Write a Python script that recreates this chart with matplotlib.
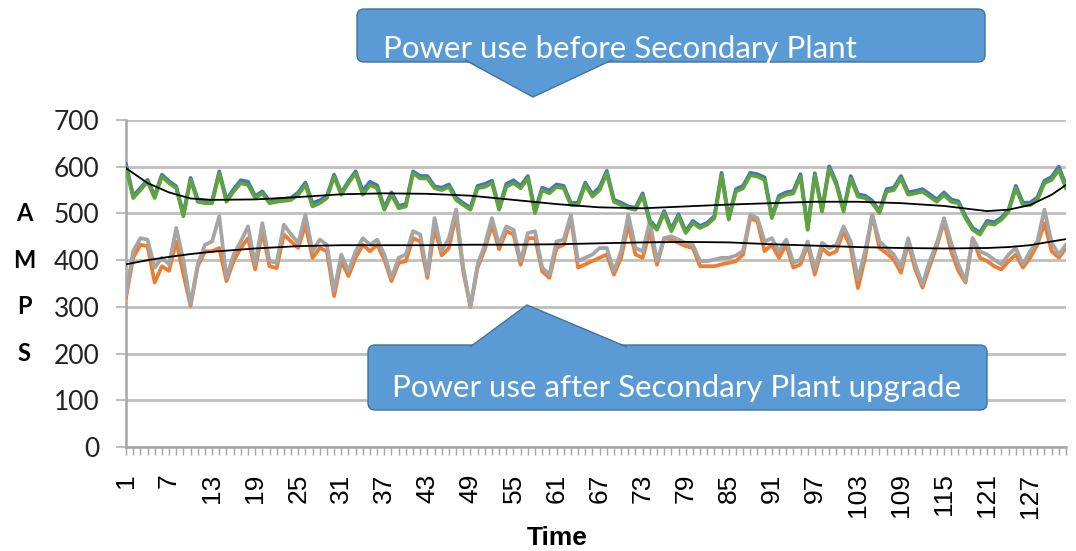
import numpy as np
import matplotlib
matplotlib.use("Agg")
import matplotlib.pyplot as plt
from matplotlib.patches import FancyBboxPatch, PathPatch
from matplotlib.path import Path
from matplotlib.transforms import Affine2D, blended_transform_factory

# valores (amperes por instante de tempo)
blue = [605, 538, 554, 572, 537, 583, 569, 558, 498, 576,
        530, 527, 526, 590, 529, 552, 571, 568, 537, 547,
        526, 529, 531, 533, 545, 566, 522, 528, 537, 583,
        544, 569, 590, 548, 568, 560, 512, 545, 516, 520,
        590, 580, 580, 558, 555, 562, 534, 522, 512, 559,
        563, 570, 512, 563, 571, 559, 580, 505, 555, 549,
        562, 559, 522, 523, 566, 541, 556, 591, 529, 523,
        515, 512, 543, 485, 468, 505, 467, 498, 462, 484,
        473, 480, 494, 587, 491, 552, 559, 587, 584, 577,
        494, 538, 545, 548, 584, 469, 586, 508, 601, 566,
        508, 580, 541, 538, 527, 505, 552, 555, 580, 545,
        548, 552, 541, 530, 545, 530, 526, 494, 469, 459,
        484, 481, 491, 508, 559, 523, 523, 534, 570, 578,
        600, 560]
green = [600, 533, 550, 568, 533, 579, 565, 554, 494, 572,
         525, 522, 522, 586, 525, 547, 565, 561, 533, 543,
         522, 525, 527, 529, 540, 561, 515, 522, 533, 579,
         540, 565, 586, 540, 561, 554, 508, 540, 511, 515,
         586, 575, 575, 554, 550, 557, 529, 518, 508, 554,
         557, 565, 508, 557, 565, 554, 575, 501, 550, 543,
         557, 554, 518, 518, 561, 536, 550, 586, 525, 518,
         511, 508, 538, 480, 465, 501, 462, 494, 458, 479,
         469, 476, 490, 582, 487, 547, 554, 582, 579, 572,
         490, 533, 540, 543, 579, 465, 582, 504, 596, 561,
         504, 575, 536, 533, 522, 501, 547, 550, 575, 540,
         543, 547, 536, 525, 540, 525, 522, 490, 465, 455,
         479, 476, 487, 504, 554, 518, 518, 529, 565, 572,
         593, 554]
orange = [320, 405, 433, 430, 352, 387, 377, 440, 370, 302,
          387, 419, 419, 426, 355, 398, 426, 447, 380, 462,
          387, 383, 455, 440, 426, 476, 405, 426, 419, 323,
          398, 366, 405, 433, 419, 433, 401, 355, 394, 398,
          447, 440, 362, 469, 410, 426, 497, 376, 300, 384,
          423, 476, 423, 462, 455, 390, 447, 447, 376, 362,
          426, 433, 490, 384, 391, 398, 405, 412, 369, 405,
          476, 412, 405, 462, 390, 447, 444, 437, 430, 426,
          387, 387, 387, 391, 394, 398, 412, 490, 483, 419,
          433, 405, 433, 384, 391, 433, 369, 426, 412, 419,
          462, 426, 340, 405, 497, 426, 415, 401, 373, 437,
          380, 341, 387, 430, 483, 419, 377, 352, 447, 405,
          398, 387, 380, 398, 412, 384, 405, 433, 479, 419,
          405, 426]
gray = [327, 419, 447, 444, 384, 405, 391, 469, 399, 306,
        391, 433, 440, 494, 362, 412, 440, 472, 391, 479,
        398, 394, 476, 455, 437, 497, 419, 444, 433, 334,
        412, 377, 419, 447, 433, 444, 412, 362, 405, 412,
        462, 455, 369, 490, 420, 447, 508, 384, 300, 391,
        433, 490, 433, 472, 465, 398, 458, 462, 384, 369,
        440, 444, 497, 398, 405, 412, 426, 426, 377, 419,
        497, 426, 419, 483, 398, 447, 451, 444, 437, 433,
        398, 398, 401, 405, 405, 410, 420, 497, 490, 440,
        447, 419, 444, 394, 401, 440, 380, 437, 426, 433,
        472, 440, 359, 419, 497, 440, 426, 412, 384, 447,
        391, 348, 398, 437, 490, 437, 391, 355, 447, 419,
        412, 401, 391, 412, 426, 391, 419, 440, 508, 437,
        412, 433]

trend_t = [1, 4, 7, 10, 13, 19, 25, 31, 37, 43, 49, 55, 61, 67, 73, 79,
           85, 91, 97, 103, 109, 115, 121, 124, 127, 130, 132]
trend_before = [597, 565, 545, 532, 529, 530, 535, 541, 543, 542, 538, 529,
                520, 513, 511, 515, 519, 522, 525, 525, 522, 516, 505, 508,
                518, 540, 561]
trend_after = [391, 400, 407, 413, 418, 425, 430, 432, 432, 432, 433, 433,
               434, 436, 438, 439, 438, 434, 431, 428, 426, 425, 426, 428,
               432, 440, 445]

time = np.arange(1, len(green) + 1)
yticks = [0, 100, 200, 300, 400, 500, 600, 700]
amps = ["A", "M", "P", "S"]
amps_y = [500, 400, 300, 200]

W, H = 1076, 551
fig = plt.figure(figsize=(W / 100, H / 100), dpi=100)
# coordenadas em pixels (origem no canto superior esquerdo)
PX = Affine2D().scale(1 / W, -1 / H).translate(0, 1) + fig.transFigure

ax = fig.add_axes([126 / W, 1 - 447 / H, (1066 - 126) / W, (447 - 120) / H])

ax.plot(time, blue, color="#4472C4", lw=2.7, zorder=3)
ax.plot(time, orange, color="#ED7D31", lw=2.7, zorder=3)
ax.plot(time, gray, color="#A5A5A5", lw=2.7, zorder=3)
ax.plot(time, green, color="#5FA43A", lw=2.7, zorder=3)
ax.plot(trend_t, trend_before, color="black", lw=1.3, zorder=4)
ax.plot(trend_t, trend_after, color="black", lw=1.3, zorder=4)

ax.set_xlim(1, len(time))
ax.set_ylim(0, 700)
ax.set_yticks(yticks)
ax.set_xticks(time)
ax.set_xticklabels([str(t) if (t - 1) % 6 == 0 else "" for t in time],
                   rotation=90, fontsize=19, family="Liberation Sans")
ax.set_yticklabels([str(v) for v in yticks], fontsize=19, family="Lato",
                   color="#222222")
ax.tick_params(axis="x", length=6, width=1, color="#A6A6A6", pad=13)
ax.tick_params(axis="y", length=7, width=1.5, color="#BFBFBF", pad=12)
ax.grid(axis="y", color="#BFBFBF", lw=2)
ax.set_axisbelow(True)
for s in ("top", "right"):
    ax.spines[s].set_visible(False)
for s in ("left", "bottom"):
    ax.spines[s].set_color("#A6A6A6")
    ax.spines[s].set_linewidth(1.8)

amps_tr = blended_transform_factory(fig.transFigure, ax.transData)
for letra, yv in zip(amps, amps_y):
    ax.text(24 / W, yv, letra, transform=amps_tr, ha="center", va="center",
            fontsize=17, fontweight="bold", family="Lato")

fig.text(557, 538, "Time", transform=PX, ha="center", va="center",
         fontsize=19, fontweight="bold", family="Liberation Sans")


def callout(x0, y0, x1, y1, base, tip, text, tx, ty):
    box = FancyBboxPatch((x0, y0), x1 - x0, y1 - y0,
                         boxstyle="round,pad=0,rounding_size=7",
                         fc="#5B9BD5", ec="#41719C", lw=1, transform=PX)
    fig.add_artist(box)
    yb = base[2]
    ptr = Path([(base[0], yb), tip, (base[1], yb)],
               [Path.MOVETO, Path.LINETO, Path.LINETO])
    fig.add_artist(PathPatch(ptr, fc="#5B9BD5", ec="#41719C", lw=1,
                             transform=PX))
    t = fig.text(tx, ty, text, transform=PX, color="white", fontsize=22.5,
                 family="Lato", ha="left", va="baseline")
    t.set_clip_path(box)


callout(357, 9, 985, 62, (465, 612, 60), (533, 97),
        "Power use before Secondary Plant", 383, 58)
callout(368, 345, 987, 410, (470, 627, 347), (527, 305),
        "Power use after Secondary Plant upgrade", 392, 397)

fig.savefig("out.png", dpi=100)
